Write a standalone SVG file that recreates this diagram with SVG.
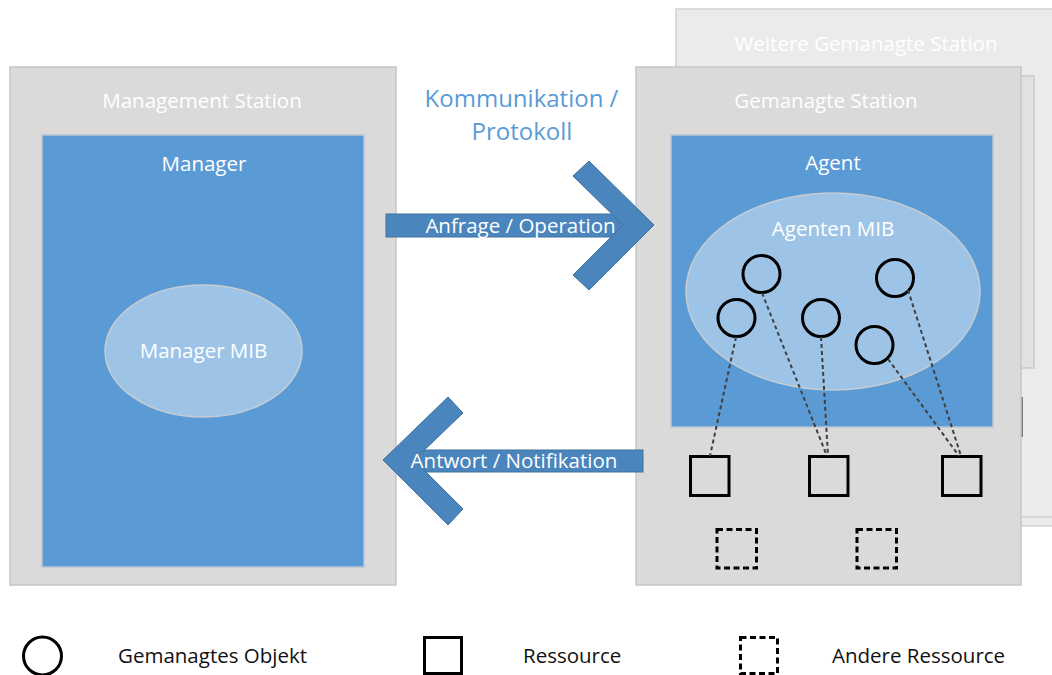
<svg xmlns="http://www.w3.org/2000/svg" width="1052" height="675" viewBox="0 0 1052 675">
  <style>
    .station { fill: #dadada; stroke: #c6c6c6; stroke-width: 1.5; }
    .station-back { fill: #ebebeb; stroke: #d2d2d2; stroke-width: 1.5; }
    .station-mid { fill: #e1e1e1; stroke: #c9c9c9; stroke-width: 1.5; }
    .box { fill: #5b9bd5; stroke: #b9c6d3; stroke-width: 1.5; }
    .mib { fill: #9dc3e6; stroke: #c7ccd2; stroke-width: 1.5; }
    .lbl { font-family: "Open Sans", "Noto Sans", sans-serif; font-size: 20.5px; fill: #ffffff; text-anchor: middle; }
    .title { font-family: "Open Sans", "Noto Sans", sans-serif; font-size: 24px; fill: #5b9bd5; text-anchor: middle; }
    .legend { font-family: "Open Sans", "Noto Sans", sans-serif; font-size: 20.5px; fill: #111111; }
    .obj { fill: none; stroke: #000000; stroke-width: 3; }
    .res { fill: none; stroke: #000000; stroke-width: 3; }
    .res-other { fill: none; stroke: #000000; stroke-width: 3; stroke-dasharray: 6 3.5; }
    .link { fill: none; stroke: #404040; stroke-width: 2; stroke-dasharray: 4 3; }
    .arrow { fill: #4a86bd; stroke: #41719c; stroke-width: 1; }
  </style>

  <!-- further managed station, stacked behind -->
  <g id="station-further">
    <rect class="station-back" x="676" y="9" width="390" height="517"/>
    <line x1="1022" y1="517" x2="1052" y2="517" stroke="#d2d2d2" stroke-width="1.5"/>
    <rect class="station-mid" x="660" y="76" width="374" height="292"/>
    <line x1="1022" y1="397" x2="1022" y2="437" stroke="#555555" stroke-width="1.5"/>
    <text class="lbl" x="866" y="51">Weitere Gemanagte Station</text>
  </g>

  <!-- management station -->
  <g id="management-station">
    <rect class="station" x="10" y="67" width="386" height="518"/>
    <text class="lbl" x="202" y="108">Management Station</text>
  </g>
  <g id="manager">
    <rect class="box" x="42" y="135" width="322" height="432"/>
    <text class="lbl" x="204" y="171">Manager</text>
  </g>
  <g id="manager-mib">
    <ellipse class="mib" cx="203.5" cy="351" rx="98.5" ry="66"/>
    <text class="lbl" x="203.5" y="358">Manager MIB</text>
  </g>

  <!-- managed station -->
  <g id="managed-station">
    <rect class="station" x="636" y="67" width="385" height="518"/>
    <text class="lbl" x="826" y="108">Gemanagte Station</text>
  </g>
  <g id="agent">
    <rect class="box" x="671" y="135" width="322" height="292"/>
    <text class="lbl" x="833" y="170">Agent</text>
  </g>
  <g id="agent-mib">
    <ellipse class="mib" cx="833" cy="291.5" rx="147" ry="98.5"/>
    <text class="lbl" x="833" y="236">Agenten MIB</text>
  </g>

  <!-- managed objects -->
  <g id="object-1"><circle class="obj" cx="761.5" cy="274" r="18.5"/></g>
  <g id="object-2"><circle class="obj" cx="736.5" cy="318" r="18.5"/></g>
  <g id="object-3"><circle class="obj" cx="821" cy="318" r="18.5"/></g>
  <g id="object-4"><circle class="obj" cx="895" cy="278" r="18.5"/></g>
  <g id="object-5"><circle class="obj" cx="874.5" cy="345" r="18.5"/></g>

  <!-- resources -->
  <g id="resource-1"><rect class="res" x="690.5" y="456.5" width="38.5" height="39"/></g>
  <g id="resource-2"><rect class="res" x="809.5" y="456.5" width="38.5" height="39"/></g>
  <g id="resource-3"><rect class="res" x="942.5" y="456.5" width="38.5" height="39"/></g>
  <g id="other-resource-1"><rect class="res-other" x="717" y="529.5" width="39.5" height="38.5"/></g>
  <g id="other-resource-2"><rect class="res-other" x="857" y="529.5" width="39.5" height="38.5"/></g>

  <!-- title -->
  <g id="protocol-title">
    <text class="title" x="521.5" y="107">Kommunikation /</text>
    <text class="title" x="522" y="140">Protokoll</text>
  </g>

  <!-- connectors -->
  <g id="connectors">
    <line class="link" x1="736" y1="337" x2="710" y2="456"/>
    <line class="link" x1="762" y1="293" x2="827" y2="456"/>
    <line class="link" x1="821" y1="337" x2="828" y2="456"/>
    <line class="link" x1="888" y1="359" x2="959" y2="456"/>
    <line class="link" x1="908" y1="290" x2="961" y2="456"/>

    <!-- request arrow -->
    <g id="arrow-request">
      <rect class="arrow" x="386" y="214" width="238" height="23"/>
      <polygon class="arrow" points="573,176 589,161 654,225 589,290 573,275 623,225"/>
      <text class="lbl" x="520.5" y="233">Anfrage / Operation</text>
    </g>
    <!-- response arrow -->
    <g id="arrow-response">
      <rect class="arrow" x="414" y="450" width="229" height="22"/>
      <polygon class="arrow" points="463,413 448,397 383,460 448,525 463,509 414,460"/>
      <text class="lbl" x="514" y="468">Antwort / Notifikation</text>
    </g>
  </g>

  <!-- legend -->
  <g id="legend">
    <circle class="obj" cx="42.5" cy="656" r="19"/>
    <text class="legend" x="118" y="663">Gemanagtes Objekt</text>
    <rect class="res" x="424.5" y="637.5" width="37" height="36"/>
    <text class="legend" x="523" y="663">Ressource</text>
    <rect class="res-other" x="740.5" y="637.5" width="37" height="36"/>
    <text class="legend" x="832" y="663">Andere Ressource</text>
  </g>
</svg>
